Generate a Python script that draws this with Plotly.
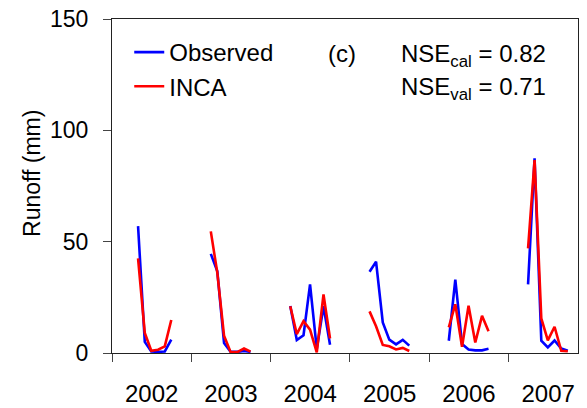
import plotly.graph_objects as go

years = [2002, 2003, 2004, 2005, 2006, 2007]
start_month = [5, 4, 4, 4, 4, 4]

obs_2002 = [57, 5, 0.7, 0.5, 0.7, 6]
inca_2002 = [42.5, 9, 1, 1.5, 3, 14.8]
obs_2003 = [44.5, 36.7, 4.5, 0.6, 0.5, 0.9, 0.5]
inca_2003 = [54.6, 36, 7.7, 0.5, 0.4, 2, 0.6]
obs_2004 = [21.1, 5.8, 8, 30.8, 1.8, 21, 3.7]
inca_2004 = [21, 8.5, 14.3, 10.5, 0.3, 26.3, 6.5]
obs_2005 = [36.5, 41, 13.7, 6, 3.9, 5.9, 3.3]
inca_2005 = [18.7, 12, 3.6, 3, 1.6, 2.3, 0.9]
obs_2006 = [5.5, 33, 4, 1.6, 1.2, 1.2, 1.9]
inca_2006 = [11.5, 21.9, 2.8, 21.2, 4.7, 16.7, 9.8]
obs_2007 = [30.8, 87.4, 5.5, 2.5, 5.6, 2, 1]
inca_2007 = [47, 86.6, 15.5, 5.7, 11.8, 1, 0.8]

obs_all = [obs_2002, obs_2003, obs_2004, obs_2005, obs_2006, obs_2007]
inca_all = [inca_2002, inca_2003, inca_2004, inca_2005, inca_2006, inca_2007]


def build(series):
    xs, ys = [], []
    for yr, m0, vals in zip(years, start_month, series):
        for i, v in enumerate(vals):
            xs.append(f"{yr}-{m0 + i:02d}-01")
            ys.append(v)
        xs.append(None)
        ys.append(None)
    return xs, ys


FONT = "Arial, Liberation Sans, sans-serif"

fig = go.Figure()
ox, oy = build(obs_all)
ix, iy = build(inca_all)
fig.add_trace(go.Scatter(x=ox, y=oy, mode="lines", name="Observed",
                         line=dict(color="#0000FF", width=2.6), connectgaps=False))
fig.add_trace(go.Scatter(x=ix, y=iy, mode="lines", name="INCA",
                         line=dict(color="#FF0000", width=2.6), connectgaps=False))

fig.update_layout(
    width=587, height=408,
    margin=dict(l=112, r=9, t=19, b=55, autoexpand=False),
    paper_bgcolor="white", plot_bgcolor="white",
    font=dict(family=FONT, color="black"),
    showlegend=True,
    legend=dict(x=0.037, y=0.967, xanchor="left", yanchor="top",
                bgcolor="rgba(0,0,0,0)", font=dict(size=24, family=FONT),
                itemwidth=30, tracegroupgap=0),
    xaxis=dict(type="date", range=["2002-01-01", "2007-11-17"],
               tick0="2002-01-01", dtick="M12", tickformat="%Y",
               ticklabelmode="period", ticks="outside", ticklen=8,
               tickcolor="#444", showline=True, linecolor="#222", linewidth=1,
               mirror=True, showgrid=False, zeroline=False, automargin=False,
               tickfont=dict(size=24, family=FONT), ticklabelstandoff=11),
    yaxis=dict(range=[0, 150], tickvals=[0, 50, 100, 150], ticks="outside",
               ticklen=8, tickcolor="#444", showline=True, linecolor="#222",
               linewidth=1, mirror=True, showgrid=False, zeroline=False,
               automargin=False, ticksuffix="\u00a0",
               tickfont=dict(size=23, family=FONT), ticklabelstandoff=10),
)

fig.add_annotation(xref="paper", yref="paper", x=-0.1717, y=0.539,
                   xanchor="center", yanchor="middle", showarrow=False,
                   textangle=-90, text="Runoff (mm)",
                   font=dict(size=23, family=FONT))
fig.add_annotation(xref="paper", yref="paper", x=0.459, y=0.897,
                   xanchor="left", yanchor="middle", showarrow=False,
                   text="(c)", font=dict(size=24, family=FONT))
fig.add_annotation(xref="paper", yref="paper", x=0.616, y=0.89,
                   xanchor="left", yanchor="middle", showarrow=False,
                   text="NSE<sub>cal</sub> = 0.82", font=dict(size=24, family=FONT))
fig.add_annotation(xref="paper", yref="paper", x=0.616, y=0.793,
                   xanchor="left", yanchor="middle", showarrow=False,
                   text="NSE<sub>val</sub> = 0.71", font=dict(size=24, family=FONT))

fig.write_html("out.html", config={"displayModeBar": False},
               post_script="document.body.style.margin='0';document.body.style.padding='0';")
